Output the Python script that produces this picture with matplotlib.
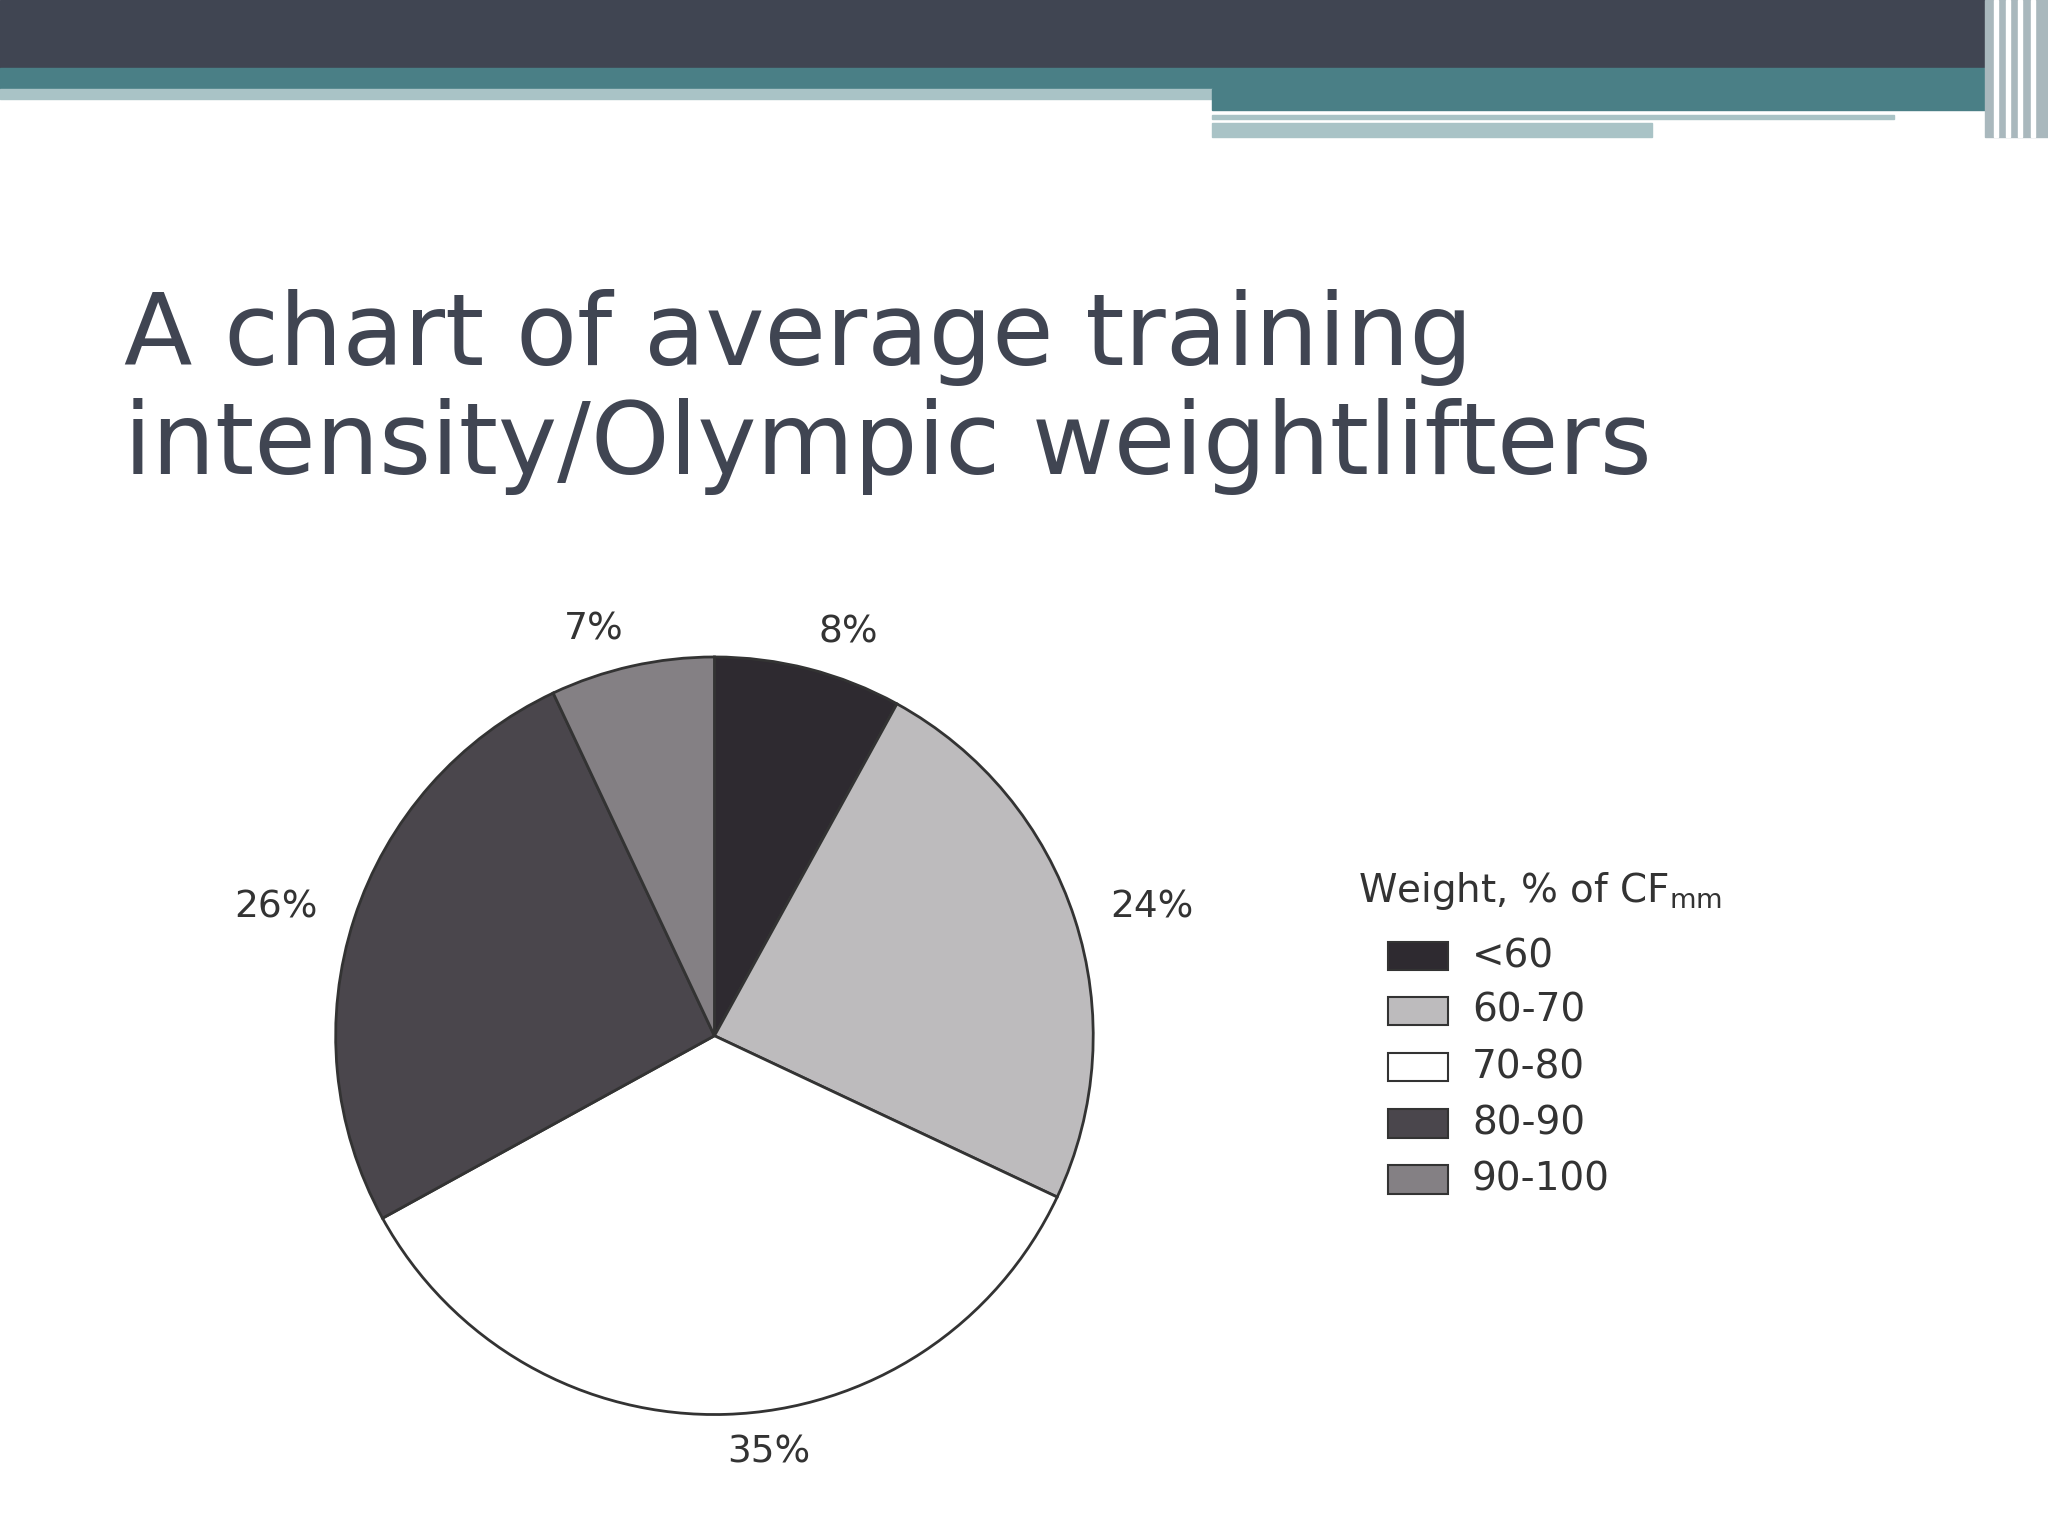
import matplotlib
matplotlib.use("Agg")
import matplotlib.pyplot as plt
from matplotlib.patches import Rectangle

categories = ["<60", "60-70", "70-80", "80-90", "90-100"]
values = [8, 24, 35, 26, 7]
labels = ["8%", "24%", "35%", "26%", "7%"]
colors = ["#2e2a30", "#bdbbbd", "#ffffff", "#4a464c", "#848084"]

W, H = 1568, 1176
fig = plt.figure(figsize=(20.48, 15.36), dpi=100)
fig.patch.set_facecolor("white")

def band(x0, y0, x1, y1, c):
    fig.patches.append(Rectangle((x0/W, 1-y1/H), (x1-x0)/W, (y1-y0)/H,
                                 transform=fig.transFigure, color=c, zorder=0))
band(0, 0, 1568, 52, "#404552")
band(0, 52, 1520, 68, "#4a7f86")
band(0, 68, 928, 76, "#a9c3c6")
band(928, 68, 1520, 84, "#4a7f86")
band(928, 88, 1450, 91, "#a9c3c6")
band(928, 94, 1265, 105, "#a9c3c6")
band(1520, 0, 1568, 105, "#a9b8bd")
for x in (1527, 1536, 1545, 1555):
    band(x, 0, x+3, 105, "#ffffff")

fig.text(95/W, 1-300/H, "A chart of average training\nintensity/Olympic weightlifters",
         fontsize=72, color="#404552", ha="left", va="center", linespacing=1.15,
         family="DejaVu Sans")

cx, cy, r = 547, 793, 290
ax = fig.add_axes([(cx-r*1.3)/W, 1-(cy+r*1.3)/H, 2.6*r/W, 2.6*r/H])
ax.pie(values, labels=labels, colors=colors, startangle=90, counterclock=False,
       radius=1/1.3, labeldistance=1.1,
       wedgeprops=dict(edgecolor="#333333", linewidth=2),
       textprops=dict(fontsize=27, color="#333333"))
ax.set_xlim(-1, 1); ax.set_ylim(-1, 1)
ax.set_aspect("equal")
ax.axis("off")

fig.text(1040/W, 1-682/H, "Weight, % of CF$_{\\mathrm{mm}}$", fontsize=28,
         color="#333333", va="center")
ys = [732, 774, 817, 860, 903]
for y, c, cat in zip(ys, colors, categories):
    fig.patches.append(Rectangle((1063/W, 1-(y+11)/H), 46/W, 22/H,
                                 transform=fig.transFigure, facecolor=c,
                                 edgecolor="#333333", linewidth=1.5))
    fig.text(1127/W, 1-y/H, cat, fontsize=28, color="#333333", va="center")

fig.savefig("out.png", dpi=100)
